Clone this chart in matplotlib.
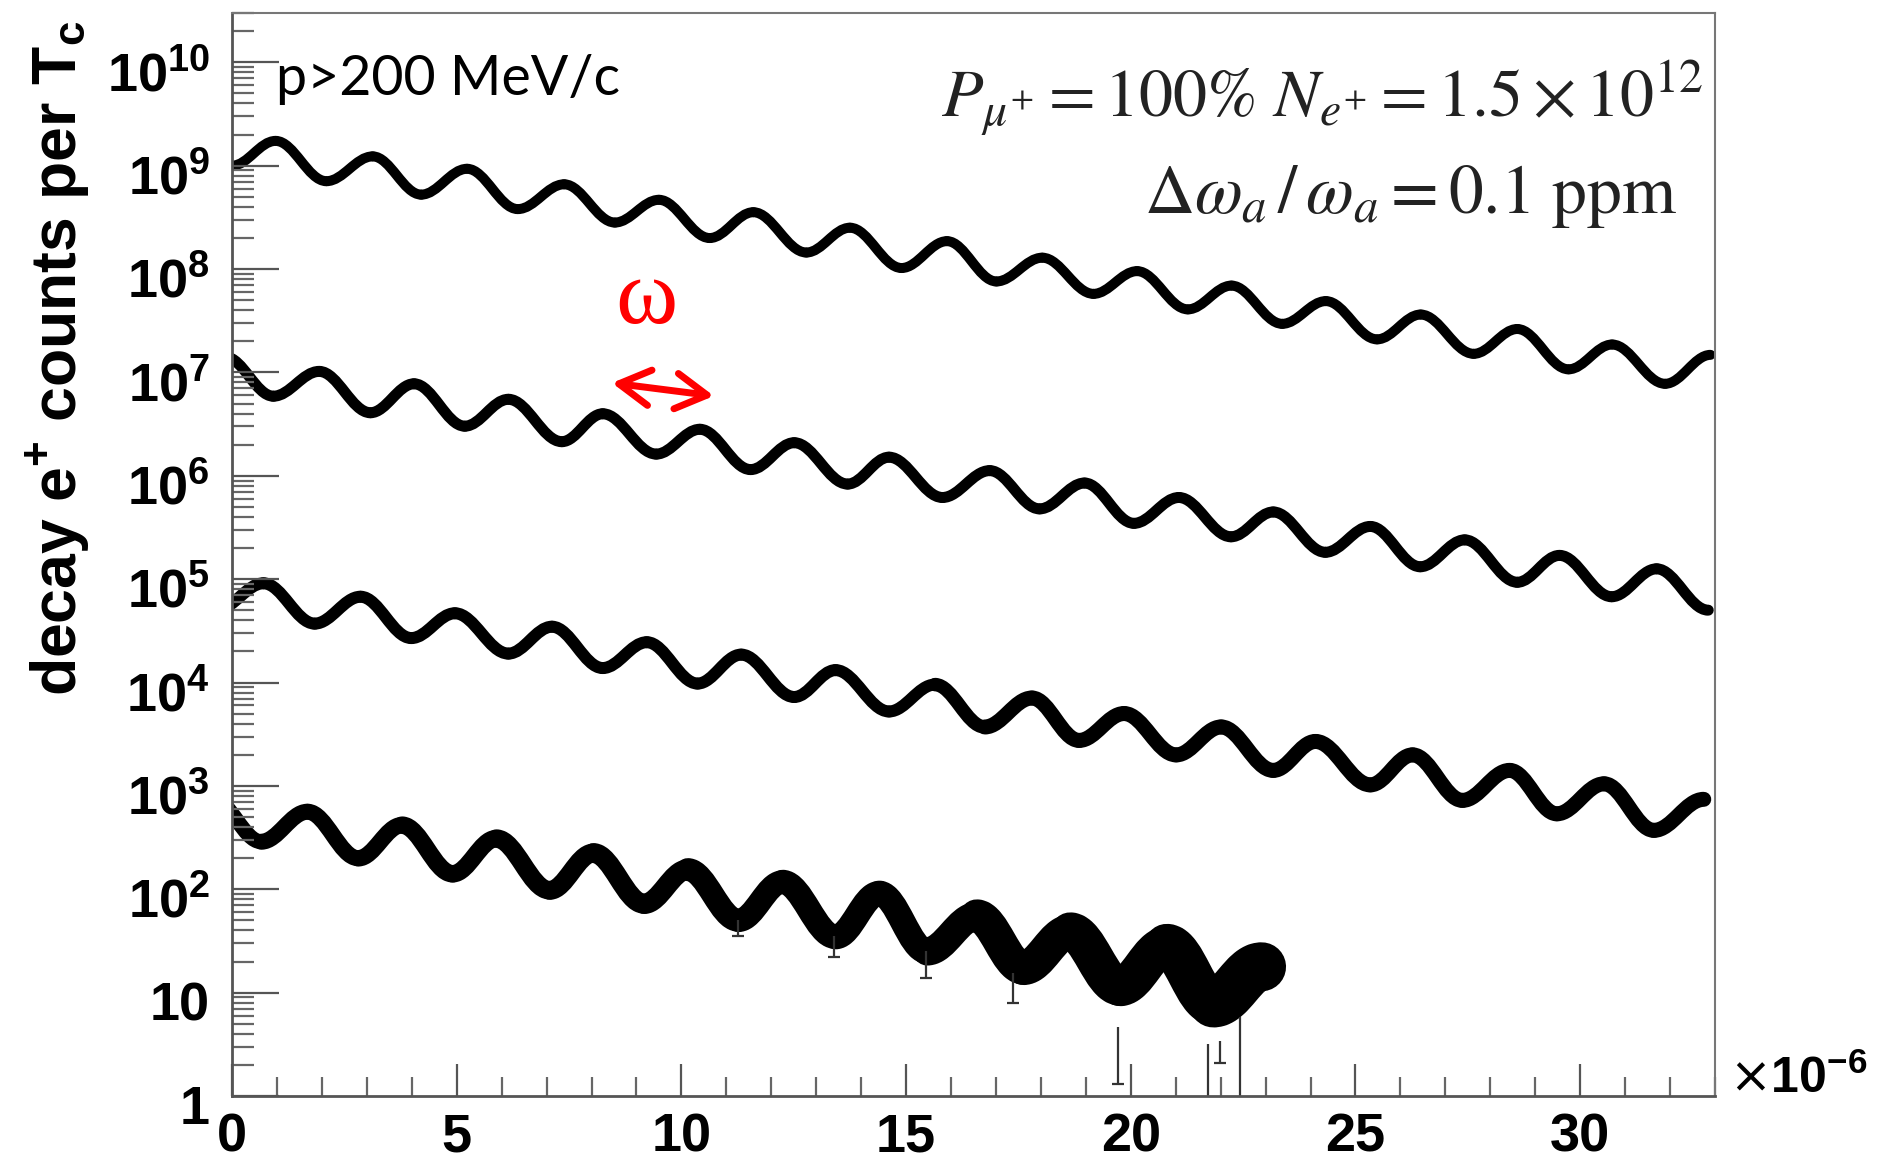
import numpy as np
import matplotlib
matplotlib.use("Agg")
import matplotlib.pyplot as plt
import matplotlib.transforms as mtransforms
from matplotlib.path import Path
from matplotlib.patches import PathPatch
from matplotlib.ticker import FixedLocator, FuncFormatter, LogLocator, MultipleLocator

# peaks / troughs of the four wiggles
# time in units of 1e-6 s, counts stored as log10
t1 = [0.00, 0.97, 2.10, 3.13, 4.21, 5.23, 6.36, 7.39, 8.52, 9.50,
      10.63, 11.60, 12.78, 13.75, 14.90, 15.91, 17.01, 18.03, 19.17, 20.14,
      21.27, 22.24, 23.37, 24.34, 25.48, 26.45, 27.63, 28.60, 29.74, 30.71,
      31.89, 32.90]
logn1 = [9.00, 9.24, 8.85, 9.09, 8.72, 8.97, 8.58, 8.82, 8.45, 8.67,
         8.30, 8.55, 8.16, 8.40, 8.01, 8.27, 7.88, 8.11, 7.76, 7.98,
         7.61, 7.84, 7.47, 7.69, 7.32, 7.56, 7.18, 7.42, 7.03, 7.27,
         6.89, 7.17]

t2 = [-0.15, 0.92, 1.94, 3.08, 4.05, 5.18, 6.15, 7.34, 8.25, 9.44,
      10.41, 11.54, 12.51, 13.70, 14.62, 15.81, 16.86, 17.97, 18.97, 20.07,
      21.07, 22.23, 23.17, 24.33, 25.33, 26.44, 27.43, 28.60, 29.54, 30.70,
      31.70, 32.85]
logn2 = [7.15, 6.77, 7.01, 6.61, 6.89, 6.48, 6.74, 6.33, 6.60, 6.21,
         6.45, 6.06, 6.32, 5.92, 6.18, 5.79, 6.05, 5.68, 5.93, 5.54,
         5.79, 5.41, 5.65, 5.26, 5.51, 5.12, 5.38, 4.97, 5.23, 4.83,
         5.10, 4.70]

t3 = [-0.32, 0.70, 1.84, 2.86, 3.99, 4.96, 6.15, 7.12, 8.25, 9.23,
      10.36, 11.33, 12.51, 13.43, 14.62, 15.64, 16.75, 17.80, 18.85, 19.85,
      21.01, 22.01, 23.17, 24.11, 25.33, 26.27, 27.38, 28.43, 29.48, 30.53,
      31.64, 32.75]
logn3 = [4.71, 4.96, 4.57, 4.83, 4.43, 4.67, 4.28, 4.54, 4.14, 4.39,
         3.99, 4.27, 3.86, 4.12, 3.72, 3.98, 3.57, 3.85, 3.44, 3.70,
         3.30, 3.57, 3.15, 3.43, 3.01, 3.30, 2.86, 3.15, 2.73, 3.02,
         2.57, 2.87]

t4 = [-0.42, 0.65, 1.68, 2.81, 3.78, 4.91, 5.88, 7.07, 8.04, 9.17,
      10.14, 11.27, 12.25, 13.43, 14.40, 15.47, 16.57, 17.61, 18.65, 19.76,
      20.80, 21.84, 22.91]
logn4 = [2.87, 2.46, 2.75, 2.30, 2.62, 2.15, 2.49, 1.99, 2.35, 1.86,
         2.19, 1.70, 2.07, 1.54, 1.96, 1.40, 1.74, 1.24, 1.59, 1.06,
         1.45, 0.90, 1.25]

# a few long error bars of the lowest series
err_t = [11.25, 13.40, 15.45, 17.39, 19.72, 21.72, 21.98, 22.43]
err_hi = [50.0, 35.0, 25.0, 15.5, 4.7, 3.2, 3.4, 5.8]
err_lo = [35.0, 22.0, 14.0, 7.9, 1.3, 0.5, 2.1, 0.5]

# apparent thickness of each band (pixels) at every extremum
band1 = [10] * len(t1)
band2 = [11] * len(t2)
band3 = [12] * 16 + [15] * 16
band4 = [14, 16, 16, 16, 17, 18, 17, 20, 18, 22, 19, 27, 20, 29, 21, 30,
         27, 40, 29, 48, 31, 58, 40]

K = 0.364  # cubic bezier handle for a half sine wave


def draw_wave(ax, t, logn, band, color="black"):
    n = 10.0 ** np.array(logn)
    for i in range(len(t) - 1):
        d = t[i + 1] - t[i]
        verts = [(t[i], n[i]), (t[i] + K * d, n[i]),
                 (t[i + 1] - K * d, n[i + 1]), (t[i + 1], n[i + 1])]
        codes = [Path.MOVETO, Path.CURVE4, Path.CURVE4, Path.CURVE4]
        lw = 0.5 * (band[i] + band[i + 1]) * 0.72
        ax.add_patch(PathPatch(Path(verts, codes), fill=False, lw=lw,
                               edgecolor=color, capstyle="round",
                               joinstyle="round"))


plt.rcParams["font.family"] = ["Liberation Sans", "DejaVu Sans"]

W, H = 1886, 1169
fig = plt.figure(figsize=(W / 100, H / 100), dpi=100)
ax = fig.add_axes([232 / W, 1 - 1096 / H, (1715 - 232) / W, (1096 - 13) / H])

ax.set_yscale("log")
ax.set_xlim(0, 33)
ax.set_ylim(1, 3e10)

for t, logn, band in [(t1, logn1, band1), (t2, logn2, band2),
                      (t3, logn3, band3), (t4, logn4, band4)]:
    draw_wave(ax, t, logn, band)

ax.vlines(err_t, err_lo, err_hi, color="#333333", lw=1.6)
ax.plot(err_t, err_lo, "_", color="#333333", ms=9, mew=1.6)

# axes styling, ROOT look
for side in ["left", "bottom"]:
    ax.spines[side].set_color("#555555")
    ax.spines[side].set_linewidth(2)
for side in ["top", "right"]:
    ax.spines[side].set_color("#777777")
    ax.spines[side].set_linewidth(1.5)

ax.xaxis.set_major_locator(FixedLocator([0, 5, 10, 15, 20, 25, 30]))
ax.xaxis.set_minor_locator(MultipleLocator(1))
ax.yaxis.set_major_locator(FixedLocator([10.0 ** k for k in range(11)]))
ax.yaxis.set_minor_locator(LogLocator(base=10, subs=np.arange(2, 10), numticks=30))


def ylab(v, pos):
    e = int(round(np.log10(v)))
    if e == 0:
        return "1"
    if e == 1:
        return "10"
    return r"$\mathdefault{10^{%d}}$" % e


ax.yaxis.set_major_formatter(FuncFormatter(ylab))
ax.yaxis.set_minor_formatter(FuncFormatter(lambda v, p: ""))

ax.tick_params(axis="y", which="major", direction="in", length=34, width=1.6,
               color="#555555", pad=16, labelsize=39)
ax.tick_params(axis="y", which="minor", direction="in", length=16, width=1.6,
               color="#666666")
ax.tick_params(axis="x", which="major", direction="in", length=23, width=1.6,
               color="#555555", pad=12, labelsize=39)
ax.tick_params(axis="x", which="minor", direction="in", length=14, width=1.6,
               color="#666666")
plt.setp(ax.get_xticklabels() + ax.get_yticklabels(), fontweight="bold")

# ROOT draws the y labels a little below their ticks
down = mtransforms.ScaledTranslation(0, -6 / 72, fig.dpi_scale_trans)
for lbl in ax.get_yticklabels():
    lbl.set_transform(lbl.get_transform() + down)

ax.text(-0.117, 0.681, r"decay e$\mathdefault{^{+}}$ counts per T$\mathdefault{_{c}}$",
        transform=ax.transAxes, rotation=90, ha="center", va="center",
        fontsize=45, fontweight="bold")
ax.text(1.0094, 0.003, r"$\times\mathdefault{10^{-6}}$", transform=ax.transAxes,
        ha="left", va="baseline", fontsize=36, fontweight="bold")

ax.text(0.030, 0.924, "p>200 MeV/c", transform=ax.transAxes, va="baseline",
        fontfamily="Lato", fontsize=40)
ax.text(0.992, 0.904, r"$P_{\mu^{+}}=100\%\ N_{e^{+}}=1.5\times10^{12}$",
        transform=ax.transAxes, ha="right", va="baseline", fontsize=49,
        color="#222222", math_fontfamily="stix")
ax.text(0.9744, 0.815, r"$\Delta\omega_{a}\,/\,\omega_{a}=0.1\ \mathrm{ppm}$",
        transform=ax.transAxes, ha="right", va="baseline", fontsize=50,
        color="#222222", math_fontfamily="stix")

# red omega with double arrow
ax.text(0.2796, 0.7138, "\u03c9", transform=ax.transAxes, color="red",
        ha="center", va="baseline", fontfamily="Liberation Serif",
        fontsize=68)
ax.annotate("", xy=(0.3250, 0.6464), xytext=(0.2562, 0.6584),
            xycoords="axes fraction", textcoords="axes fraction",
            arrowprops=dict(arrowstyle="<->, head_length=0.7, head_width=0.4",
                            color="red", lw=5, mutation_scale=32,
                            shrinkA=0, shrinkB=0))

fig.savefig("out.png", dpi=100)
